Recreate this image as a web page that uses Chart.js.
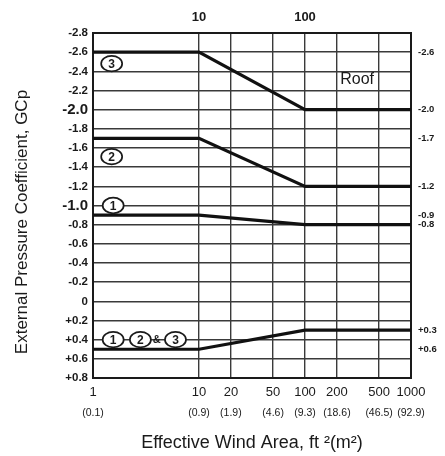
<!DOCTYPE html>
<html>
<head>
<meta charset="utf-8">
<script src="https://cdn.jsdelivr.net/npm/chart.js@4.4.1/dist/chart.umd.min.js"></script>
<style>
  html, body { margin: 0; padding: 0; background: #fff; }
  #gcp-chart { display: block; }
</style>
</head>
<body>
<canvas id="gcp-chart" width="445" height="456"></canvas>
<script>
// effective wind area (ft2) and GCp per roof zone
var areas = [1, 10, 100, 1000];
var zone3 = [-2.6, -2.6, -2.0, -2.0];
var zone2 = [-1.7, -1.7, -1.2, -1.2];
var zone1 = [-0.9, -0.9, -0.8, -0.8];
var zonePos = [0.5, 0.5, 0.3, 0.3];

var areaTicks = [1, 10, 20, 50, 100, 200, 500, 1000];
var areaTicksM2 = ["(0.1)", "(0.9)", "(1.9)", "(4.6)", "(9.3)", "(18.6)", "(46.5)", "(92.9)"];
var topTicks = [10, 100];
var gcpTicks = [-2.8, -2.6, -2.4, -2.2, -2.0, -1.8, -1.6, -1.4, -1.2, -1.0, -0.8, -0.6, -0.4, -0.2, 0, 0.2, 0.4, 0.6, 0.8];
var rightTicks = [-2.6, -2.0, -1.7, -1.2, -0.9, -0.8, 0.3, 0.5];
var rightLabels = ["-2.6", "-2.0", "-1.7", "-1.2", "-0.9", "-0.8", "+0.3", "+0.6"];

var FONT = "'Liberation Sans', Arial, sans-serif";
var INK = '#1a1a1a';
var GRID = '#3a3a3a';

function pts(ys) {
    return ys.map(function (y, i) { return {x: areas[i], y: y}; });
}
function fixTicks(list) {
    return function (scale) {
        scale.ticks = list.map(function (v) { return {value: v}; });
    };
}

// circled zone numbers + "Roof" tag
var zoneTags = {
    id: 'zoneTags',
    afterDraw: function (chart) {
        var ctx = chart.ctx, xs = chart.scales.x, ys = chart.scales.y;
        var circles = [
            [1.5, -2.48, '3'], [1.5, -1.51, '2'], [1.55, -1.0, '1'],
            [1.55, 0.4, '1'], [2.8, 0.4, '2'], [6.0, 0.4, '3']
        ];
        ctx.save();
        circles.forEach(function (c) {
            var px = xs.getPixelForValue(c[0]), py = ys.getPixelForValue(c[1]);
            ctx.beginPath();
            ctx.ellipse(px, py, 10.5, 7.8, 0, 0, Math.PI * 2);
            ctx.fillStyle = '#fff';
            ctx.fill();
            ctx.lineWidth = 1.7;
            ctx.strokeStyle = INK;
            ctx.stroke();
            ctx.fillStyle = INK;
            ctx.font = 'bold 12px ' + FONT;
            ctx.textAlign = 'center';
            ctx.textBaseline = 'middle';
            ctx.fillText(c[2], px, py + 1);
        });
        ctx.font = 'bold 11px ' + FONT;
        ctx.fillText('&', xs.getPixelForValue(4.0), ys.getPixelForValue(0.4));
        ctx.font = '16px ' + FONT;
        ctx.fillText('Roof', xs.getPixelForValue(310), ys.getPixelForValue(-2.31));
        ctx.restore();
    }
};

new Chart(document.getElementById("gcp-chart"), {
    type: 'line',
    data: {
        datasets: [
            {label: "Zone 3", data: pts(zone3)},
            {label: "Zone 2", data: pts(zone2)},
            {label: "Zone 1", data: pts(zone1)},
            {label: "Zones 1, 2 & 3", data: pts(zonePos)}
        ]
    },
    plugins: [zoneTags],
    options: {
        responsive: false,
        animation: false,
        events: [],
        layout: {padding: 0},
        plugins: {legend: {display: false}, tooltip: {enabled: false}},
        elements: {
            point: {radius: 0},
            line: {borderWidth: 3.2, borderColor: '#111', tension: 0}
        },
        scales: {
            x: {
                type: 'logarithmic', position: 'bottom', min: 1, max: 1000,
                afterBuildTicks: fixTicks(areaTicks),
                afterFit: function (s) { s.height = 25; },
                grid: {color: GRID, lineWidth: 1.4, drawTicks: false},
                border: {color: INK, width: 2},
                ticks: {
                    padding: 7, autoSkip: false, maxRotation: 0, color: INK,
                    font: {family: FONT, size: 13},
                    callback: function (v) { return String(v); }
                }
            },
            x3: {
                type: 'logarithmic', position: 'bottom', min: 1, max: 1000,
                afterBuildTicks: fixTicks(areaTicks),
                afterFit: function (s) { s.height = 78 - 25; },
                grid: {display: false, drawTicks: false},
                border: {display: false},
                ticks: {
                    padding: 4, autoSkip: false, maxRotation: 0, color: INK,
                    font: {family: FONT, size: 10.5},
                    callback: function (v, i) { return areaTicksM2[i]; }
                },
                title: {
                    display: true, text: 'Effective Wind Area, ft \u00b2(m\u00b2)', color: INK,
                    font: {family: FONT, size: 18}, padding: {top: 0, bottom: 2}
                }
            },
            x2: {
                type: 'logarithmic', position: 'top', min: 1, max: 1000,
                afterBuildTicks: fixTicks(topTicks),
                afterFit: function (s) { s.height = 33; },
                grid: {display: false, drawTicks: false},
                border: {color: INK, width: 2},
                ticks: {
                    padding: 8, autoSkip: false, maxRotation: 0, color: INK,
                    font: {family: FONT, size: 13, weight: 'bold'},
                    callback: function (v) { return String(v); }
                }
            },
            y: {
                type: 'linear', position: 'left', reverse: true, min: -2.8, max: 0.8,
                afterBuildTicks: fixTicks(gcpTicks),
                afterFit: function (s) { s.width = 93; },
                grid: {color: GRID, lineWidth: 1.4, drawTicks: false},
                border: {color: INK, width: 2},
                ticks: {
                    padding: 5, autoSkip: false, color: INK,
                    font: function (c) {
                        var v = c.tick ? c.tick.value : 0;
                        var big = Math.abs(v + 2) < 1e-6 || Math.abs(v + 1) < 1e-6;
                        return big ? {family: FONT, size: 15, weight: 'bold'} : {family: FONT, size: 11.5, weight: 'bold'};
                    },
                    callback: function (v) {
                        if (Math.abs(v) < 1e-9) return '0';
                        return (v > 0 ? '+' : '') + v.toFixed(1);
                    }
                },
                title: {
                    display: true, text: 'External Pressure Coefficient, GCp       ', color: INK,
                    font: {family: FONT, size: 17}, padding: {top: 12, bottom: 0}
                }
            },
            y2: {
                type: 'linear', position: 'right', reverse: true, min: -2.8, max: 0.8,
                afterBuildTicks: fixTicks(rightTicks),
                afterFit: function (s) { s.width = 34; },
                grid: {display: false, drawTicks: false},
                border: {color: INK, width: 2},
                ticks: {
                    padding: 7, autoSkip: false, color: INK,
                    font: {family: FONT, size: 9.5, weight: 'bold'},
                    callback: function (v, i) { return rightLabels[i]; }
                }
            }
        }
    }
});
</script>
</body>
</html>
